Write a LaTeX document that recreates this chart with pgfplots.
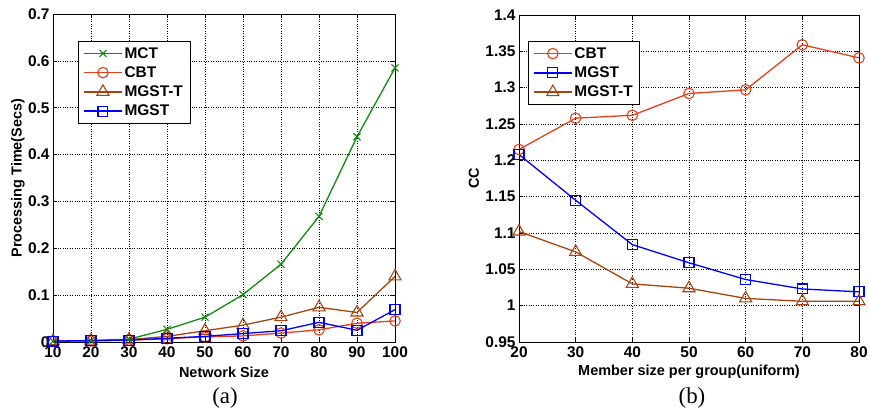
\documentclass[border=0pt]{standalone}
\usepackage{pgfplots}
\pgfplotsset{compat=1.18}
\usepackage{fontspec}
\setmainfont{Liberation Sans}
\newfontfamily\capfont{Liberation Serif}
\definecolor{mct}{rgb}{0.05,0.55,0.05}
\definecolor{cbt}{rgb}{0.9,0.25,0.1}
\definecolor{mgstt}{rgb}{0.65,0.27,0.05}
\definecolor{mgst}{rgb}{0.0,0.0,1.0}
\pgfplotsset{
  myax/.style={
    scale only axis,
    /pgf/number format/assume math mode=true,
    tick label style={font=\fontsize{15.5}{16}\selectfont\bfseries},
    label style={font=\fontsize{14.5}{15}\selectfont\bfseries},
    legend style={font=\fontsize{15.5}{16}\selectfont\bfseries, draw=black, line width=0.7pt,
      row sep=3pt, inner xsep=5pt, inner ysep=4pt, cells={anchor=west}},
    legend cell align=left,
    legend image code/.code={\draw[mark repeat=2,mark phase=2] plot coordinates {(0bp,0bp)(19bp,0bp)(38bp,0bp)};},
    grid=major,
    major grid style={black, dotted, line width=0.7pt},
    axis line style={black, line width=0.8pt},
    tick style={black, line width=0.7pt},
    tick align=inside,
    major tick length=4bp,
    every axis plot/.append style={line width=1.3pt, mark options={solid, line width=1.1pt}},
  }
}
\begin{document}
\begin{tikzpicture}
\useasboundingbox (-53bp,-72bp) rectangle (816bp,342bp);
\begin{axis}[myax,
  at={(0bp,0bp)}, anchor=south west,
  width=342bp, height=328bp,
  xmin=10, xmax=100, ymin=0, ymax=0.7,
  xtick={10,20,...,100},
  ytick={0,0.1,...,0.7},
  yticklabel style={/pgf/number format/fixed},
  xticklabel style={yshift=-1bp},
  xlabel={Network Size},
  ylabel={Processing Time(Secs)},
  xlabel style={at={(0.5,0)}, anchor=center, yshift=-30bp},
  ylabel style={at={(0,0.5)}, anchor=center, yshift=35bp},
  legend style={at={(0.073,0.918)}, anchor=north west},
]
\addplot[color=mct, mark=x, mark size=5pt] coordinates {
(10,0.002)(20,0.003)(30,0.006)(40,0.027)(50,0.053)(60,0.101)(70,0.166)(80,0.268)(90,0.438)(100,0.585)};
\addlegendentry{MCT}
\addplot[color=cbt, mark=o, mark size=5.3pt] coordinates {
(10,0.002)(20,0.002)(30,0.004)(40,0.007)(50,0.011)(60,0.013)(70,0.019)(80,0.026)(90,0.040)(100,0.045)};
\addlegendentry{CBT}
\addplot[color=mgstt, mark=triangle, mark size=7pt] coordinates {
(10,0.002)(20,0.003)(30,0.005)(40,0.012)(50,0.024)(60,0.036)(70,0.053)(80,0.074)(90,0.063)(100,0.140)};
\addlegendentry{MGST-T}
\addplot[color=mgst, mark=square, mark size=5pt] coordinates {
(10,0.002)(20,0.003)(30,0.004)(40,0.008)(50,0.012)(60,0.018)(70,0.024)(80,0.042)(90,0.025)(100,0.069)};
\addlegendentry{MGST}
\end{axis}
\begin{axis}[myax,
  at={(466bp,0bp)}, anchor=south west,
  width=340bp, height=327bp,
  xmin=20, xmax=80, ymin=0.95, ymax=1.4,
  xtick={20,30,...,80},
  ytick={0.95,1,1.05,1.1,1.15,1.2,1.25,1.3,1.35,1.4},
  xticklabel style={yshift=-1bp},
  xlabel={Member size per group(uniform)},
  ylabel={CC},
  xlabel style={at={(0.5,0)}, anchor=center, yshift=-30bp},
  ylabel style={at={(0,0.5)}, anchor=center, yshift=45bp},
  legend style={at={(0.026,0.92)}, anchor=north west},
]
\addplot[color=cbt, mark=o, mark size=5.3pt] coordinates {
(20,1.215)(30,1.258)(40,1.262)(50,1.292)(60,1.297)(70,1.359)(80,1.341)};
\addlegendentry{CBT}
\addplot[color=mgst, mark=square, mark size=5pt] coordinates {
(20,1.208)(30,1.145)(40,1.084)(50,1.059)(60,1.036)(70,1.023)(80,1.019)};
\addlegendentry{MGST}
\addplot[color=mgstt, mark=triangle, mark size=7pt] coordinates {
(20,1.102)(30,1.074)(40,1.030)(50,1.024)(60,1.010)(70,1.006)(80,1.006)};
\addlegendentry{MGST-T}
\end{axis}
\node[font=\capfont\fontsize{23}{25}\selectfont] at (172bp,-56bp) {(a)};
\node[font=\capfont\fontsize{23}{25}\selectfont] at (639bp,-56bp) {(b)};
\end{tikzpicture}
\end{document}
